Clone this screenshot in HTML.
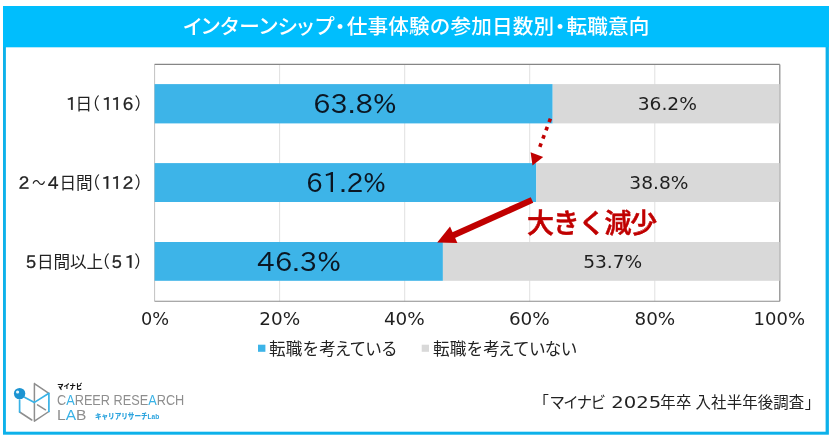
<!DOCTYPE html>
<html lang="ja"><head><meta charset="utf-8"><title>インターンシップ・仕事体験の参加日数別・転職意向</title>
<style>html,body{margin:0;padding:0;background:#fff}body{width:836px;height:438px;overflow:hidden}svg{display:block}text{white-space:pre}</style>
</head><body>
<svg width="836" height="438" viewBox="0 0 836 438">
<rect width="836" height="438" fill="#fff"/>
<rect x="3.0" y="6.0" width="825.9" height="428.7" fill="#0db1ea"/>
<rect x="3.0" y="6.0" width="825.9" height="41.3" fill="#00befd"/>
<rect x="5.9" y="47.3" width="819.7" height="384.4" fill="#fff"/>
<line x1="279.6" y1="64.4" x2="279.6" y2="301.3" stroke="#e0e0e0" stroke-width="1"/>
<line x1="404.7" y1="64.4" x2="404.7" y2="301.3" stroke="#e0e0e0" stroke-width="1"/>
<line x1="529.7" y1="64.4" x2="529.7" y2="301.3" stroke="#e0e0e0" stroke-width="1"/>
<line x1="654.8" y1="64.4" x2="654.8" y2="301.3" stroke="#e0e0e0" stroke-width="1"/>
<line x1="154.6" y1="64.4" x2="154.6" y2="301.3" stroke="#c2c2c2" stroke-width="1"/>
<line x1="154.6" y1="301.3" x2="779.8" y2="301.3" stroke="#8c8c8c" stroke-width="1.1"/>
<line x1="154.6" y1="64.4" x2="779.8" y2="64.4" stroke="#868686" stroke-width="1.2"/>
<line x1="779.8" y1="64.4" x2="779.8" y2="301.3" stroke="#868686" stroke-width="1.2"/>
<rect x="154.6" y="84.1" width="398.1" height="39.3" fill="#3db4e8"/>
<rect x="552.7" y="84.1" width="226.9" height="39.3" fill="#d9d9d9"/>
<rect x="154.6" y="163.1" width="381.7" height="38.9" fill="#3db4e8"/>
<rect x="536.3" y="163.1" width="243.3" height="38.9" fill="#d9d9d9"/>
<rect x="154.6" y="242.0" width="288.3" height="38.8" fill="#3db4e8"/>
<rect x="442.9" y="242.0" width="336.7" height="38.8" fill="#d9d9d9"/>
<text x="313.0" y="113.4" font-family='"IPAPGothic","NanumGothic","DejaVu Sans",sans-serif' font-size="27" font-weight="400" fill="#0b1622" textLength="83.6" lengthAdjust="spacingAndGlyphs">63.8%</text>
<text x="306.0" y="192.3" font-family='"IPAPGothic","NanumGothic","DejaVu Sans",sans-serif' font-size="27" font-weight="400" fill="#0b1622" textLength="80.0" lengthAdjust="spacingAndGlyphs">61.2%</text>
<text x="257.0" y="271.4" font-family='"IPAPGothic","NanumGothic","DejaVu Sans",sans-serif' font-size="27" font-weight="400" fill="#0b1622" textLength="84.1" lengthAdjust="spacingAndGlyphs">46.3%</text>
<text x="637.7" y="110.3" font-family='"DejaVu Sans","Liberation Sans",sans-serif' font-size="17.7" font-weight="400" fill="#1f1f1f" textLength="59.3" lengthAdjust="spacingAndGlyphs">36.2%</text>
<text x="629.3" y="189.4" font-family='"DejaVu Sans","Liberation Sans",sans-serif' font-size="17.7" font-weight="400" fill="#1f1f1f" textLength="59.1" lengthAdjust="spacingAndGlyphs">38.8%</text>
<text x="583.2" y="268.3" font-family='"DejaVu Sans","Liberation Sans",sans-serif' font-size="17.7" font-weight="400" fill="#1f1f1f" textLength="59.1" lengthAdjust="spacingAndGlyphs">53.7%</text>
<text x="141.1" y="325.3" font-family='"DejaVu Sans","Liberation Sans",sans-serif' font-size="17.9" font-weight="400" fill="#1f1f1f" textLength="28.1" lengthAdjust="spacingAndGlyphs">0%</text>
<text x="259.3" y="325.3" font-family='"DejaVu Sans","Liberation Sans",sans-serif' font-size="17.9" font-weight="400" fill="#1f1f1f" textLength="40.9" lengthAdjust="spacingAndGlyphs">20%</text>
<text x="383.9" y="325.3" font-family='"DejaVu Sans","Liberation Sans",sans-serif' font-size="17.9" font-weight="400" fill="#1f1f1f" textLength="40.9" lengthAdjust="spacingAndGlyphs">40%</text>
<text x="508.9" y="325.3" font-family='"DejaVu Sans","Liberation Sans",sans-serif' font-size="17.9" font-weight="400" fill="#1f1f1f" textLength="40.9" lengthAdjust="spacingAndGlyphs">60%</text>
<text x="634.5" y="325.3" font-family='"DejaVu Sans","Liberation Sans",sans-serif' font-size="17.9" font-weight="400" fill="#1f1f1f" textLength="40.7" lengthAdjust="spacingAndGlyphs">80%</text>
<text x="753.6" y="325.3" font-family='"DejaVu Sans","Liberation Sans",sans-serif' font-size="17.9" font-weight="400" fill="#1f1f1f" textLength="51.4" lengthAdjust="spacingAndGlyphs">100%</text>
<text x="182.5 200.2 219.4 239.3 258.0 277.5 295.1 314.3" y="34.0" font-family='"Liberation Sans","Noto Sans CJK JP",sans-serif' font-size="20.6" font-weight="500" fill="#fff">インターンシップ</text>
<text x="329.8" y="34.0" font-family='"Liberation Sans","Noto Sans CJK JP",sans-serif' font-size="20.6" font-weight="500" fill="#fff" letter-spacing="0" >・</text>
<text x="346.7" y="34.0" font-family='"Liberation Sans","Noto Sans CJK JP",sans-serif' font-size="20.6" font-weight="500" fill="#fff" letter-spacing="0.17" >仕事体験の参加日数別</text>
<text x="549.7" y="34.0" font-family='"Liberation Sans","Noto Sans CJK JP",sans-serif' font-size="20.6" font-weight="500" fill="#fff" letter-spacing="0" >・</text>
<text x="566.6" y="34.0" font-family='"Liberation Sans","Noto Sans CJK JP",sans-serif' font-size="20.6" font-weight="500" fill="#fff" letter-spacing="0.1" >転職意向</text>
<text x="66.0" y="110.0" font-family='"IPAPGothic","NanumGothic","DejaVu Sans",sans-serif' font-size="17.2" fill="#222222" stroke="#222222" stroke-width="0.35">1</text>
<text x="75.6" y="110.2" font-family='"Liberation Sans","Noto Sans CJK JP",sans-serif' font-size="16.6" font-weight="400" fill="#222222" letter-spacing="0" >日</text>
<text x="83.2" y="110.2" font-family='"Liberation Sans","Noto Sans CJK JP",sans-serif' font-size="16.6" font-weight="400" fill="#222222" letter-spacing="0" >（</text>
<text x="102.0 111.3 122.4" y="110.0" font-family='"IPAPGothic","NanumGothic","DejaVu Sans",sans-serif' font-size="17.2" fill="#222222" stroke="#222222" stroke-width="0.35">116</text>
<text x="134.5" y="110.2" font-family='"Liberation Sans","Noto Sans CJK JP",sans-serif' font-size="16.6" font-weight="400" fill="#222222" letter-spacing="0" >）</text>
<text x="18.5" y="189.2" font-family='"IPAPGothic","NanumGothic","DejaVu Sans",sans-serif' font-size="17.2" fill="#222222" stroke="#222222" stroke-width="0.35">2</text>
<text x="31.9" y="189.4" font-family='"Liberation Sans","Noto Sans CJK JP",sans-serif' font-size="16.6" font-weight="400" fill="#222222" textLength="13.6" lengthAdjust="spacingAndGlyphs">〜</text>
<text x="47.7" y="189.2" font-family='"IPAPGothic","NanumGothic","DejaVu Sans",sans-serif' font-size="17.2" fill="#222222" stroke="#222222" stroke-width="0.35">4</text>
<text x="59.4" y="189.4" font-family='"Liberation Sans","Noto Sans CJK JP",sans-serif' font-size="16.6" font-weight="400" fill="#222222" letter-spacing="-0.05" >日間</text>
<text x="83.4" y="189.4" font-family='"Liberation Sans","Noto Sans CJK JP",sans-serif' font-size="16.6" font-weight="400" fill="#222222" letter-spacing="0" >（</text>
<text x="101.6 111.2 122.5" y="189.2" font-family='"IPAPGothic","NanumGothic","DejaVu Sans",sans-serif' font-size="17.2" fill="#222222" stroke="#222222" stroke-width="0.35">112</text>
<text x="134.4" y="189.4" font-family='"Liberation Sans","Noto Sans CJK JP",sans-serif' font-size="16.6" font-weight="400" fill="#222222" letter-spacing="0" >）</text>
<text x="25.6" y="268.2" font-family='"IPAPGothic","NanumGothic","DejaVu Sans",sans-serif' font-size="17.2" fill="#222222" stroke="#222222" stroke-width="0.35">5</text>
<text x="36.9" y="268.4" font-family='"Liberation Sans","Noto Sans CJK JP",sans-serif' font-size="16.6" font-weight="400" fill="#222222" letter-spacing="-0.08" >日間以上</text>
<text x="93.3" y="268.4" font-family='"Liberation Sans","Noto Sans CJK JP",sans-serif' font-size="16.6" font-weight="400" fill="#222222" letter-spacing="0" >（</text>
<text x="111.2 124.7" y="268.2" font-family='"IPAPGothic","NanumGothic","DejaVu Sans",sans-serif' font-size="17.2" fill="#222222" stroke="#222222" stroke-width="0.35">51</text>
<text x="134.3" y="268.4" font-family='"Liberation Sans","Noto Sans CJK JP",sans-serif' font-size="16.6" font-weight="400" fill="#222222" letter-spacing="0" >）</text>
<rect x="258.0" y="344.7" width="7.4" height="7.1" fill="#3db4e8"/>
<rect x="421.7" y="344.7" width="7.3" height="7.1" fill="#d9d9d9"/>
<text x="269.1" y="355.1" font-family='"Liberation Sans","Noto Sans CJK JP",sans-serif' font-size="16.6" font-weight="400" fill="#222222" letter-spacing="0.1" >転職を考</text>
<text x="334.7" y="355.1" font-family='"Liberation Sans","Noto Sans CJK JP",sans-serif' font-size="16.6" font-weight="400" fill="#222222" letter-spacing="-0.85" >えている</text>
<text x="433.1" y="355.1" font-family='"Liberation Sans","Noto Sans CJK JP",sans-serif' font-size="16.6" font-weight="400" fill="#222222" letter-spacing="0.1" >転職を考</text>
<text x="498.0" y="355.1" font-family='"Liberation Sans","Noto Sans CJK JP",sans-serif' font-size="16.6" font-weight="400" fill="#222222" letter-spacing="-0.7" >えていない</text>
<text x="527.0" y="232.6" font-family='"Liberation Sans","Noto Sans CJK JP",sans-serif' font-size="27" font-weight="500" fill="#c00000" letter-spacing="-1.2" stroke="#c00000" stroke-width="0.55">大きく減少</text>
<line x1="550.4" y1="118.6" x2="538.8" y2="149.5" stroke="#c00000" stroke-width="3.6" stroke-dasharray="3.7 5.1"/>
<polygon points="532.5,165.6 530.6,152.2 543.2,157.0" fill="#c00000"/>
<line x1="532" y1="200" x2="452" y2="235.8" stroke="#c00000" stroke-width="6.2"/>
<polygon points="437.2,242.5 450.0,226.6 457.4,243.1" fill="#c00000"/>
<text x="533.6" y="408.2" font-family='"Liberation Sans","Noto Sans CJK JP",sans-serif' font-size="15.4" font-weight="400" fill="#222222" letter-spacing="0" >「</text>
<text x="549.4" y="408.2" font-family='"Liberation Sans","Noto Sans CJK JP",sans-serif' font-size="15.4" font-weight="400" fill="#222222" letter-spacing="-1.6" >マイナビ</text>
<text x="611.2" y="407.9" font-family='"DejaVu Sans","Liberation Sans",sans-serif' font-size="16.0" font-weight="400" fill="#222222" textLength="50.0" lengthAdjust="spacingAndGlyphs">2025</text>
<text x="660.2" y="408.2" font-family='"Liberation Sans","Noto Sans CJK JP",sans-serif' font-size="15.4" font-weight="400" fill="#222222" letter-spacing="0.4" >年卒</text>
<text x="695.6" y="408.2" font-family='"Liberation Sans","Noto Sans CJK JP",sans-serif' font-size="15.4" font-weight="400" fill="#222222" letter-spacing="0.125" >入社半年後調査</text>
<text x="804.8" y="408.2" font-family='"Liberation Sans","Noto Sans CJK JP",sans-serif' font-size="15.4" font-weight="400" fill="#222222" letter-spacing="0" >」</text>
<g fill="none" stroke-width="1.5" stroke-linecap="round" stroke-linejoin="round">
<path d="M34.4 383.6V421.2M34.4 383.6L48.9 393.3M48.9 411.5L34.4 421.2M37.5 404.9L45.5 409.8M19.6 412L31.8 420" stroke="#8e8e8e"/>
<path d="M24.5 397.2L34.4 402.4L48.9 393.3V411.5M19.6 400V412" stroke="#39b2e6" stroke-width="1.7"/>
</g>
<circle cx="19.6" cy="393.6" r="5.7" fill="#1c94d2"/>
<circle cx="17.6" cy="392" r="1.6" fill="#e8f6fd"/>
<text x="57.2" y="389.0" font-family='"Liberation Sans","Noto Sans CJK JP",sans-serif' font-size="6.9" font-weight="900" fill="#111" textLength="25.0" lengthAdjust="spacingAndGlyphs">マイナビ</text>
<text x="57.0" y="405.4" font-family='"Liberation Sans",sans-serif' font-size="14.4" fill="#8e8e8e" textLength="127.3" lengthAdjust="spacingAndGlyphs">C<tspan fill="#39b2e6">A</tspan>REER RESE<tspan fill="#39b2e6">A</tspan>RCH</text>
<text x="57.0" y="419.8" font-family='"Liberation Sans",sans-serif' font-size="14.0" fill="#8e8e8e" textLength="29.4" lengthAdjust="spacingAndGlyphs">L<tspan fill="#39b2e6">A</tspan>B</text>
<text x="94.9" y="419.3" font-family='"Liberation Sans","Noto Sans CJK JP",sans-serif' font-size="7.6" font-weight="900" fill="#2aa3de" textLength="64.4" lengthAdjust="spacingAndGlyphs">キャリアリサーチLab</text>
</svg>
</body></html>
